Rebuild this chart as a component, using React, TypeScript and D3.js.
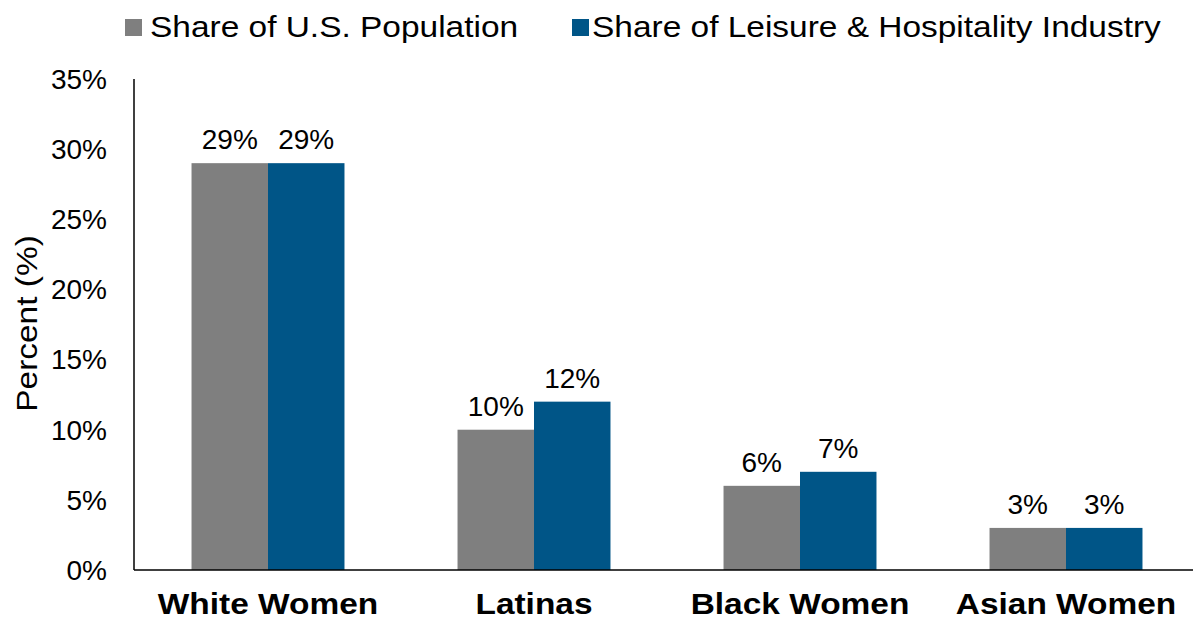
import React from "react";
import * as d3 from "d3";

const categories = ["White Women", "Latinas", "Black Women", "Asian Women"];
const seriesNames = ["Share of U.S. Population", "Share of Leisure & Hospitality Industry"];
const populationShare = [29, 10, 6, 3];
const industryShare = [29, 12, 7, 3];
const yTicks = [0, 5, 10, 15, 20, 25, 30, 35];
const colors = ["#7f7f7f", "#005587"];

const W = 1193;
const H = 621;
const FONT = "'Liberation Sans', Arial, sans-serif";
const STRETCH = 1.115;

export default function App() {
  const x = d3
    .scaleBand<string>()
    .domain(categories)
    .range([135, 1199])
    .paddingInner(0.425)
    .paddingOuter(0.2125);
  const xs = d3.scaleBand<string>().domain(seriesNames).range([0, x.bandwidth()]);
  const y = d3.scaleLinear().domain([0, 35]).range([570, 79]);
  const series = [populationShare, industryShare];

  return (
    <svg
      width={W}
      height={H}
      style={{ position: "absolute", left: 0, top: 0, background: "#fff" }}
      fontFamily={FONT}
    >
      {/* legend */}
      <g>
        <rect x={125} y={19} width={17} height={17} fill={colors[0]} />
        <text
          transform={`translate(150,37) scale(${STRETCH},1)`}
          fontSize={30}
          fill="#000"
        >
          {seriesNames[0]}
        </text>
        <rect x={572} y={19} width={17} height={17} fill={colors[1]} />
        <text
          transform={`translate(592,37) scale(${STRETCH},1)`}
          fontSize={30}
          fill="#000"
        >
          {seriesNames[1]}
        </text>
      </g>

      {/* y ticks */}
      {yTicks.map((t) => (
        <text
          key={t}
          x={107}
          y={y(t)}
          dy="0.35em"
          textAnchor="end"
          fontSize={28}
          fill="#000"
        >
          {t}%
        </text>
      ))}

      {/* y title */}
      <text
        transform={`translate(37, ${(y(0) + y(35)) / 2 - 1}) rotate(-90) scale(${STRETCH},1)`}
        textAnchor="middle"
        fontSize={30}
        fill="#000"
      >
        Percent (%)
      </text>

      {/* bars */}
      {categories.map((c, i) => (
        <g key={c} transform={`translate(${x(c)},0)`}>
          {series.map((s, j) => (
            <g key={j}>
              <rect
                x={xs(seriesNames[j])}
                y={y(s[i])}
                width={xs.bandwidth()}
                height={y(0) - y(s[i])}
                fill={colors[j]}
              />
              <text
                x={(xs(seriesNames[j]) as number) + xs.bandwidth() / 2}
                y={y(s[i]) - 14}
                textAnchor="middle"
                fontSize={28}
                fill="#000"
              >
                {s[i]}%
              </text>
            </g>
          ))}
        </g>
      ))}

      {/* axes lines */}
      <line x1={134} x2={134} y1={y(35)} y2={y(0)} stroke="#000" strokeWidth={1.5} />
      <line x1={134} x2={W} y1={y(0)} y2={y(0)} stroke="#000" strokeWidth={1.5} />

      {/* category labels */}
      {categories.map((c) => (
        <text
          key={c}
          transform={`translate(${(x(c) as number) + x.bandwidth() / 2},614) scale(${STRETCH},1)`}
          textAnchor="middle"
          fontSize={30}
          fontWeight="bold"
          fill="#000"
        >
          {c}
        </text>
      ))}
    </svg>
  );
}
